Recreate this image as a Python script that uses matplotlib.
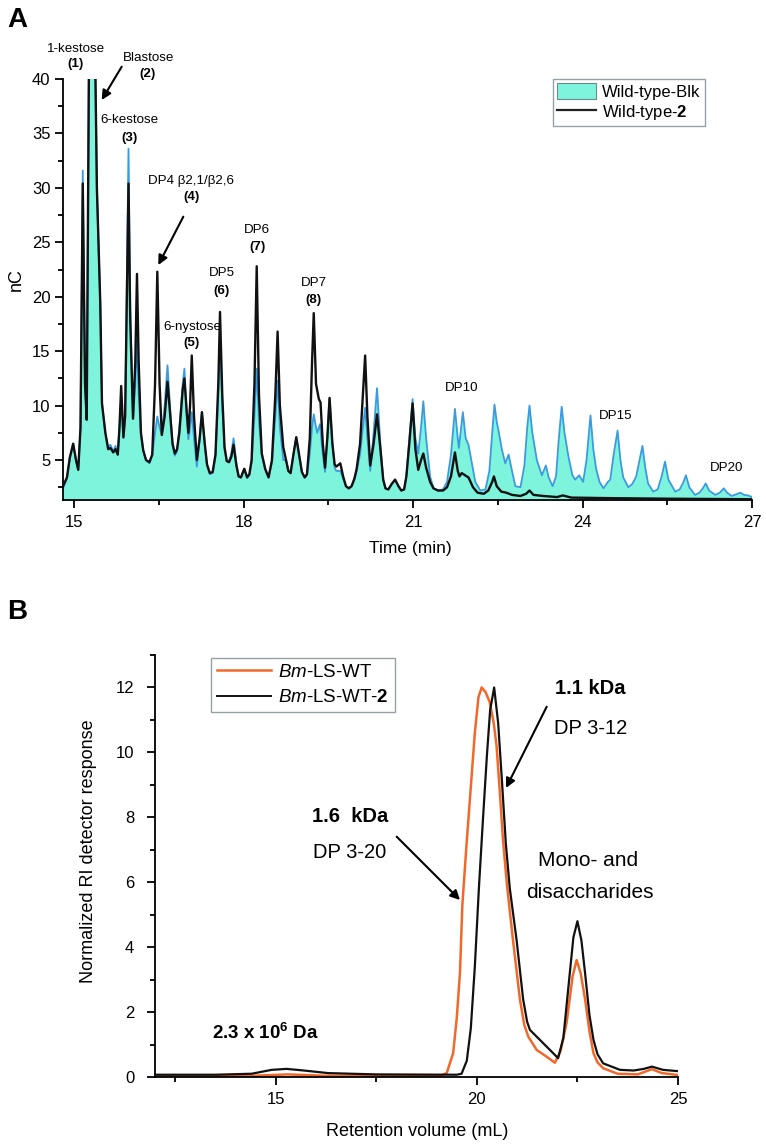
import numpy as np
import matplotlib
matplotlib.use("Agg")
import matplotlib.pyplot as plt
from matplotlib import font_manager
from matplotlib.patches import Patch
from matplotlib.lines import Line2D
from matplotlib.ticker import MultipleLocator

# ---------------- DATA ----------------
# Panel A: HPAEC-PAD chromatograms (time in min, signal in nC)
wt_blk = [
    (14.80, 2.4), (14.87, 3.3), (14.92, 5.2), (14.98, 6.5), (15.03, 5.0), (15.07, 4.1),
    (15.11, 8.0), (15.15, 31.6), (15.19, 12.0), (15.22, 8.7), (15.26, 42), (15.32, 60),
    (15.37, 42), (15.40, 30), (15.46, 19.4), (15.49, 10.2), (15.55, 7.5), (15.60, 6.1),
    (15.64, 6.4), (15.69, 5.8), (15.73, 6.3), (15.77, 5.5), (15.80, 8.0), (15.83, 10.8),
    (15.87, 7.0), (15.90, 9.0), (15.93, 21), (15.96, 33.6), (15.99, 19), (16.04, 8.8),
    (16.08, 12.0), (16.11, 16.0), (16.14, 11.0), (16.18, 7.3), (16.22, 5.9), (16.27, 5.0),
    (16.33, 4.7), (16.38, 5.4), (16.43, 7.5), (16.47, 9.0), (16.51, 8.0), (16.55, 7.3),
    (16.60, 10.0), (16.65, 13.7), (16.70, 9.5), (16.74, 6.3), (16.78, 5.4), (16.82, 5.8),
    (16.86, 8.0), (16.92, 12.0), (16.95, 13.4), (16.99, 9.0), (17.02, 6.9), (17.05, 8.0),
    (17.08, 9.4), (17.12, 7.0), (17.17, 4.4), (17.22, 7.0), (17.26, 9.4), (17.31, 6.5),
    (17.35, 4.5), (17.40, 3.7), (17.45, 3.8), (17.50, 5.3), (17.55, 11.0), (17.58, 16.3),
    (17.62, 10.0), (17.66, 6.0), (17.70, 4.9), (17.74, 4.9), (17.78, 5.6), (17.82, 7.0),
    (17.87, 4.7), (17.91, 3.5), (17.95, 3.4), (18.01, 4.2), (18.06, 3.4), (18.10, 3.6),
    (18.14, 4.8), (18.19, 9.0), (18.23, 13.4), (18.27, 8.5), (18.32, 5.4), (18.38, 4.1),
    (18.44, 3.4), (18.50, 4.8), (18.56, 9.0), (18.60, 12.3), (18.64, 8.0), (18.70, 5.0),
    (18.75, 5.0), (18.79, 4.0), (18.83, 3.8), (18.88, 5.5), (18.93, 7.1), (18.98, 5.5),
    (19.03, 3.9), (19.08, 3.4), (19.12, 3.6), (19.17, 5.5), (19.21, 8.0), (19.24, 9.2),
    (19.28, 8.0), (19.30, 7.5), (19.35, 8.3), (19.40, 5.5), (19.44, 3.9), (19.48, 7.0),
    (19.52, 10.7), (19.57, 6.5), (19.61, 4.3), (19.64, 4.0), (19.71, 4.0), (19.76, 3.3),
    (19.81, 2.6), (19.86, 2.4), (19.91, 2.6), (19.96, 3.2), (20.00, 4.0), (20.06, 5.5),
    (20.11, 8.0), (20.15, 9.8), (20.19, 7.0), (20.24, 4.0), (20.30, 7.5), (20.36, 11.6),
    (20.42, 6.5), (20.47, 3.2), (20.51, 2.4), (20.56, 2.3), (20.62, 2.8), (20.68, 3.2),
    (20.74, 2.6), (20.79, 2.2), (20.84, 2.3), (20.88, 3.5), (20.94, 7.5), (20.99, 10.6),
    (21.04, 7.0), (21.09, 5.6), (21.14, 8.0), (21.18, 10.4), (21.23, 7.0), (21.30, 3.5),
    (21.36, 2.4), (21.44, 2.2), (21.53, 2.3), (21.60, 3.0), (21.67, 5.5), (21.74, 9.7),
    (21.79, 7.0), (21.81, 6.1), (21.85, 8.0), (21.88, 9.4), (21.93, 7.0), (21.98, 6.4),
    (22.03, 5.0), (22.10, 3.0), (22.19, 2.2), (22.28, 2.3), (22.35, 4.0), (22.40, 7.5),
    (22.44, 10.1), (22.48, 8.5), (22.51, 7.75), (22.57, 6.0), (22.63, 4.7), (22.69, 5.5),
    (22.75, 4.0), (22.81, 2.6), (22.90, 2.5), (22.97, 4.5), (23.02, 8.0), (23.06, 10.0),
    (23.11, 7.5), (23.19, 5.0), (23.28, 3.6), (23.35, 4.5), (23.40, 3.4), (23.47, 2.6),
    (23.53, 3.5), (23.58, 7.0), (23.63, 9.9), (23.68, 7.5), (23.75, 5.3), (23.82, 3.6),
    (23.87, 3.2), (23.94, 3.6), (24.01, 3.0), (24.07, 5.0), (24.14, 9.1), (24.19, 6.0),
    (24.24, 4.2), (24.30, 3.0), (24.37, 2.4), (24.45, 3.0), (24.49, 3.2), (24.55, 5.5),
    (24.62, 7.7), (24.67, 5.0), (24.72, 3.4), (24.81, 2.5), (24.88, 2.8), (24.95, 3.5),
    (25.01, 5.0), (25.06, 6.3), (25.11, 4.3), (25.16, 2.85), (25.25, 2.1), (25.33, 2.3),
    (25.40, 3.5), (25.46, 4.85), (25.52, 3.2), (25.64, 2.1), (25.72, 2.3), (25.78, 2.9),
    (25.83, 3.6), (25.89, 2.5), (25.99, 1.8), (26.07, 2.0), (26.13, 2.4), (26.18, 2.85),
    (26.24, 2.2), (26.35, 1.8), (26.43, 2.0), (26.50, 2.4), (26.56, 2.0), (26.64, 1.7),
    (26.72, 1.85), (26.79, 2.0), (26.86, 1.8), (26.93, 1.75), (27.00, 1.6),
]
wt_2 = [
    (14.80, 2.6), (14.87, 3.4), (14.92, 5.2), (14.98, 6.5), (15.03, 5.0), (15.07, 4.1),
    (15.11, 8.0), (15.15, 30.4), (15.19, 12.0), (15.22, 8.7), (15.26, 42), (15.32, 60),
    (15.37, 42), (15.40, 30), (15.46, 19.4), (15.49, 10.2), (15.55, 7.5), (15.60, 6.0),
    (15.64, 6.1), (15.69, 5.7), (15.73, 6.0), (15.77, 5.5), (15.80, 8.0), (15.83, 11.8),
    (15.87, 7.1), (15.90, 9.0), (15.93, 20), (15.96, 30.4), (15.99, 18), (16.04, 8.8),
    (16.08, 14.0), (16.11, 22.1), (16.14, 14.0), (16.18, 7.5), (16.22, 5.9), (16.27, 5.0),
    (16.33, 4.8), (16.38, 5.5), (16.43, 12.0), (16.47, 22.3), (16.51, 12.0), (16.55, 7.3),
    (16.60, 9.0), (16.65, 12.2), (16.70, 9.0), (16.74, 6.5), (16.78, 5.6), (16.82, 6.0),
    (16.86, 7.5), (16.92, 11.5), (16.95, 12.5), (16.99, 9.5), (17.02, 7.5), (17.05, 10.0),
    (17.08, 14.6), (17.12, 9.0), (17.17, 5.0), (17.22, 7.0), (17.26, 9.4), (17.31, 6.5),
    (17.35, 4.6), (17.40, 3.8), (17.45, 3.9), (17.50, 5.5), (17.55, 12.0), (17.58, 18.6),
    (17.62, 11.0), (17.66, 6.2), (17.70, 4.9), (17.74, 4.8), (17.78, 5.3), (17.82, 6.4),
    (17.87, 4.5), (17.91, 3.5), (17.95, 3.4), (18.01, 4.2), (18.06, 3.4), (18.10, 3.7),
    (18.14, 5.0), (18.19, 12.0), (18.23, 22.8), (18.27, 11.0), (18.32, 5.6), (18.38, 4.2),
    (18.44, 3.4), (18.50, 5.0), (18.56, 11.0), (18.60, 16.8), (18.64, 10.0), (18.70, 6.2),
    (18.75, 5.0), (18.79, 4.0), (18.83, 3.8), (18.88, 5.5), (18.93, 7.1), (18.98, 5.5),
    (19.03, 3.9), (19.08, 3.4), (19.12, 3.7), (19.17, 7.0), (19.21, 14.0), (19.24, 18.5),
    (19.28, 12.0), (19.33, 10.6), (19.36, 10.3), (19.40, 6.5), (19.44, 4.3), (19.48, 7.0),
    (19.52, 10.7), (19.57, 6.5), (19.61, 4.6), (19.64, 4.4), (19.71, 4.7), (19.76, 3.5),
    (19.81, 2.6), (19.86, 2.4), (19.91, 2.6), (19.96, 3.3), (20.00, 4.2), (20.06, 6.5),
    (20.11, 11.0), (20.15, 14.6), (20.19, 9.0), (20.24, 4.5), (20.30, 6.5), (20.36, 9.2),
    (20.42, 6.0), (20.47, 3.2), (20.51, 2.4), (20.56, 2.3), (20.62, 2.8), (20.68, 3.2),
    (20.74, 2.6), (20.79, 2.2), (20.84, 2.3), (20.88, 3.5), (20.94, 7.0), (20.99, 10.2),
    (21.04, 6.0), (21.09, 4.1), (21.14, 5.0), (21.18, 5.6), (21.23, 4.3), (21.30, 3.0),
    (21.36, 2.4), (21.44, 2.2), (21.53, 2.2), (21.60, 2.5), (21.67, 3.5), (21.74, 5.7),
    (21.79, 4.0), (21.82, 3.5), (21.86, 3.8), (21.92, 3.6), (21.98, 3.4), (22.06, 2.5),
    (22.14, 2.0), (22.25, 1.9), (22.33, 2.2), (22.40, 3.0), (22.43, 3.5), (22.48, 2.6),
    (22.56, 2.1), (22.65, 2.0), (22.75, 1.8), (22.90, 1.7), (23.00, 1.9), (23.06, 2.2),
    (23.13, 1.8), (23.30, 1.7), (23.55, 1.6), (23.65, 1.75), (23.80, 1.55), (24.50, 1.5),
    (25.50, 1.45), (27.00, 1.4),
]

# Panel B: SEC-RI chromatograms (retention volume in mL, normalized response)
bm_ls_wt = [
    (12.0, 0.03), (13.5, 0.03), (14.5, 0.04), (15.3, 0.08), (16.2, 0.04), (17.5, 0.03),
    (18.5, 0.03), (19.1, 0.04), (19.25, 0.12), (19.41, 0.73), (19.50, 1.8), (19.58, 3.2),
    (19.64, 5.3), (19.74, 7.1), (19.83, 8.6), (19.95, 10.6), (20.04, 11.7), (20.12, 12.0),
    (20.22, 11.85), (20.32, 11.55), (20.42, 10.9), (20.49, 10.2), (20.57, 8.8), (20.65, 7.3),
    (20.75, 5.9), (20.90, 4.2), (21.07, 2.4), (21.18, 1.6), (21.28, 1.24), (21.49, 0.83),
    (21.73, 0.63), (21.94, 0.44), (22.08, 0.8), (22.23, 1.66), (22.38, 3.1), (22.48, 3.6),
    (22.58, 3.2), (22.69, 2.4), (22.80, 1.4), (22.90, 0.73), (23.00, 0.45), (23.14, 0.27),
    (23.50, 0.10), (24.00, 0.08), (24.35, 0.24), (24.60, 0.12), (25.00, 0.06),
]
bm_ls_wt_2 = [
    (12.0, 0.07), (13.5, 0.07), (14.4, 0.10), (14.9, 0.22), (15.27, 0.25), (15.7, 0.20),
    (16.3, 0.12), (17.5, 0.08), (19.5, 0.07), (19.62, 0.10), (19.75, 0.5), (19.85, 1.5),
    (19.95, 3.4), (20.05, 5.8), (20.15, 7.9), (20.25, 9.9), (20.33, 11.3), (20.43, 12.0),
    (20.53, 10.9), (20.63, 9.0), (20.72, 7.2), (20.82, 5.8), (20.99, 4.2), (21.15, 2.4),
    (21.25, 1.7), (21.32, 1.45), (21.57, 1.14), (21.82, 0.83), (22.02, 0.58), (22.15, 1.2),
    (22.27, 2.7), (22.40, 4.3), (22.50, 4.8), (22.60, 4.2), (22.69, 3.2), (22.80, 1.9),
    (22.90, 1.14), (23.00, 0.7), (23.14, 0.42), (23.56, 0.22), (23.90, 0.20), (24.15, 0.25),
    (24.35, 0.32), (24.63, 0.22), (25.00, 0.18),
]

xticks_a = [15, 18, 21, 24, 27]
yticks_a = [5, 10, 15, 20, 25, 30, 35, 40]
xticks_b = [15, 20, 25]
yticks_b = [0, 2, 4, 6, 8, 10, 12]

# ---------------- STYLE ----------------
names = {f.name for f in font_manager.fontManager.ttflist}
SANS = "Liberation Sans" if "Liberation Sans" in names else "DejaVu Sans"
plt.rcParams["font.family"] = [SANS, "DejaVu Sans"]
plt.rcParams["mathtext.fontset"] = "custom"
plt.rcParams["mathtext.rm"] = SANS
plt.rcParams["mathtext.it"] = SANS + ":italic"
plt.rcParams["mathtext.bf"] = SANS + ":bold"

CYAN = "#7ef4dc"
BLUE = "#3b9be0"
ORANGE = "#f0692a"

W, H = 766, 1148
fig = plt.figure(figsize=(W / 100, H / 100), dpi=100)


def fx(px):
    return px / W


def fy(py):
    return 1 - py / H


def style_axes(ax, lw=1.3):
    for s in ("top", "right"):
        ax.spines[s].set_visible(False)
    for s in ("left", "bottom"):
        ax.spines[s].set_linewidth(lw)
    ax.tick_params(which="major", direction="out", length=6, width=lw, labelsize=12)
    ax.tick_params(which="minor", direction="out", length=3.5, width=lw)


# ---------------- PANEL A ----------------
axA = fig.add_axes([fx(63), fy(500), fx(752) - fx(63), fy(79) - fy(500)])
t1, y1 = np.array(wt_blk).T
t2, y2 = np.array(wt_2).T
axA.fill_between(t1, y1, 0, color=CYAN, lw=0, zorder=1)
axA.plot(t1, y1, color=BLUE, lw=1.3, zorder=2)
axA.plot(t2, y2, color="#111111", lw=1.7, zorder=3)
axA.set_xlim(14.8, 27)
axA.set_ylim(1.33, 40)
axA.set_xticks(xticks_a)
axA.set_yticks(yticks_a)
axA.xaxis.set_minor_locator(MultipleLocator(1.5))
axA.yaxis.set_minor_locator(MultipleLocator(2.5))
style_axes(axA)
axA.tick_params(axis="x", pad=5)
axA.tick_params(axis="y", pad=3)
fig.text(fx(16), fy(280), "nC", rotation=90, ha="center", va="center", fontsize=13)
fig.text(fx(410), fy(549), "Time (min)", ha="center", va="center", fontsize=12.5)

legA = axA.legend(
    handles=[Patch(facecolor=CYAN, edgecolor="#6b8a90", lw=0.8),
             Line2D([], [], color="#222222", lw=1.6)],
    labels=["Wild-type-Blk", "Wild-type-$\\mathbf{2}$"],
    loc="upper left", bbox_to_anchor=(fx(553), fy(79)), bbox_transform=fig.transFigure,
    borderaxespad=0, fontsize=12, frameon=True, fancybox=False, edgecolor="#7a8a90",
    handlelength=2.3, handleheight=1.1, handletextpad=0.4, labelspacing=0.2,
    borderpad=0.25)
legA.get_frame().set_linewidth(1.0)

ann_a = [
    ("1-kestose", 76, 49), ("(1)", 76, 64),
    ("Blastose", 149, 58), ("(2)", 148, 74),
    ("6-kestose", 129, 120), ("(3)", 129, 138),
    ("DP4 β2,1/β2,6", 191, 181), ("(4)", 191, 197),
    ("DP6", 257, 230), ("(7)", 257, 247),
    ("DP5", 222, 273), ("(6)", 222, 291),
    ("6-nystose", 192, 327), ("(5)", 192, 343),
    ("DP7", 314, 283), ("(8)", 313, 300),
    ("DP10", 462, 388), ("DP15", 616, 416), ("DP20", 727, 468),
]
for txt, px, py in ann_a:
    bold = txt.startswith("(")
    fig.text(fx(px), fy(py), txt, ha="center", va="center", fontsize=9.6,
             fontweight="bold" if bold else "normal")

arrow_kw = dict(arrowstyle="-|>", color="black", lw=1.5, mutation_scale=14,
                shrinkA=0, shrinkB=0)
axA.annotate("", xy=(fx(101.7), fy(100)), xycoords="figure fraction",
             xytext=(fx(121.7), fy(66.7)), textcoords="figure fraction",
             arrowprops=arrow_kw, annotation_clip=False)
axA.annotate("", xy=(fx(158.3), fy(265)), xycoords="figure fraction",
             xytext=(fx(183.3), fy(216.7)), textcoords="figure fraction",
             arrowprops=arrow_kw, annotation_clip=False)

fig.text(fx(17), fy(20), "A", ha="center", va="center", fontsize=20, fontweight="bold")

# ---------------- PANEL B ----------------
axB = fig.add_axes([fx(155), fy(1077), fx(678) - fx(155), fy(655) - fy(1077)])
v1, r1 = np.array(bm_ls_wt).T
v2, r2 = np.array(bm_ls_wt_2).T
axB.plot(v1, r1, color=ORANGE, lw=1.8, zorder=2)
axB.plot(v2, r2, color="#111111", lw=1.6, zorder=3)
axB.set_xlim(12, 25)
axB.set_ylim(0, 13)
axB.set_xticks(xticks_b)
axB.set_yticks(yticks_b)
axB.xaxis.set_minor_locator(MultipleLocator(2.5))
axB.yaxis.set_minor_locator(MultipleLocator(1))
style_axes(axB)
axB.tick_params(axis="x", pad=5)
axB.tick_params(axis="y", pad=9)
fig.text(fx(89), fy(851), "Normalized RI detector response", rotation=90,
         ha="center", va="center", fontsize=13)
fig.text(fx(417), fy(1131), "Retention volume (mL)", ha="center", va="center", fontsize=13)

legB = axB.legend(
    handles=[Line2D([], [], color=ORANGE, lw=1.8), Line2D([], [], color="#111111", lw=1.4)],
    labels=["$\\mathit{Bm}$-LS-WT", "$\\mathit{Bm}$-LS-WT-$\\mathbf{2}$"],
    loc="upper left", bbox_to_anchor=(fx(211), fy(658)), bbox_transform=fig.transFigure,
    borderaxespad=0, fontsize=13.5, frameon=True, fancybox=False, edgecolor="#7a8a90",
    handlelength=2.9, handletextpad=0.4, labelspacing=0.45, borderpad=0.3)
legB.get_frame().set_linewidth(1.0)

fig.text(fx(350), fy(817), "1.6  kDa", ha="center", va="center", fontsize=14.5,
         fontweight="bold")
fig.text(fx(350), fy(853), "DP 3-20", ha="center", va="center", fontsize=14.5)
fig.text(fx(590), fy(688), "1.1 kDa", ha="center", va="center", fontsize=14.5,
         fontweight="bold")
fig.text(fx(591), fy(728), "DP 3-12", ha="center", va="center", fontsize=14.5)
fig.text(fx(588), fy(860), "Mono- and", ha="center", va="center", fontsize=15)
fig.text(fx(590), fy(892), "disaccharides", ha="center", va="center", fontsize=15)
fig.text(fx(266), fy(1033), "2.3 x 10$^{\\mathbf{6}}$ Da", ha="center", va="center",
         fontsize=13.5, fontweight="bold")

axB.annotate("", xy=(fx(460), fy(900)), xycoords="figure fraction",
             xytext=(fx(396.7), fy(836.7)), textcoords="figure fraction",
             arrowprops=arrow_kw, annotation_clip=False)
axB.annotate("", xy=(fx(506), fy(788)), xycoords="figure fraction",
             xytext=(fx(546.7), fy(706.7)), textcoords="figure fraction",
             arrowprops=arrow_kw, annotation_clip=False)

fig.text(fx(17), fy(612), "B", ha="center", va="center", fontsize=20, fontweight="bold")

fig.savefig("out.png", dpi=100)
